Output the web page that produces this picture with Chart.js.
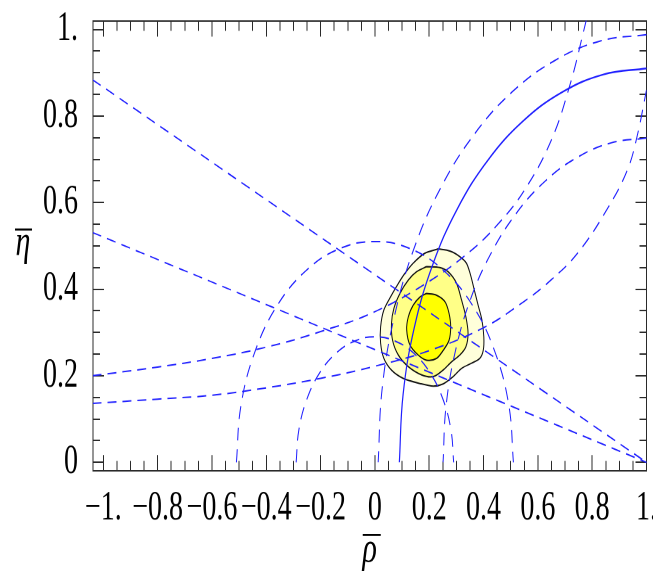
<!DOCTYPE html>
<html lang="en">
<head>
    <meta charset="UTF-8">
    <title>Unitarity triangle fit</title>
    <script src="https://cdn.jsdelivr.net/npm/chart.js"></script>
    <style>
        body {
            margin: 0;
            background: #fff;
        }
        #page {
            width: 653px;
            height: 576px;
            overflow: hidden;
        }
        /* the original picture is stretched vertically, so is this one */
        #wrap {
            width: 653px;
            height: 397px;
            transform: scaleY(1.4509);
            transform-origin: 0 0;
        }
        #chart {
            display: block;
            width: 653px;
            height: 397px;
        }
    </style>
</head>
<body>
    <div id="page"><div id="wrap"><canvas id="chart" width="653" height="397"></canvas></div></div>

    <script>
        // axis ranges and titles
        const xRange = [-1.038, 1.0];
        const yRange = [-0.02, 1.02];
        const xTitle = '\u03C1';
        const yTitle = '\u03B7';

        // |Vub/Vcb| circles around (0,0)
        const vubOuter = [[-0.51, 0], [-0.493, 0.132], [-0.442, 0.255], [-0.361, 0.361], [-0.255, 0.442], [-0.132, 0.493], [0, 0.51],
            [0.132, 0.493], [0.255, 0.442], [0.361, 0.361], [0.442, 0.255], [0.493, 0.132], [0.51, 0]];
        const vubInner = [[-0.29, 0], [-0.28, 0.075], [-0.251, 0.145], [-0.205, 0.205], [-0.145, 0.251], [-0.075, 0.28], [0, 0.29],
            [0.075, 0.28], [0.145, 0.251], [0.205, 0.205], [0.251, 0.145], [0.28, 0.075], [0.29, 0]];

        // Delta m_d circles around (1,0), dashed
        const dmdOuter = [[1, 0.988], [0.828, 0.973], [0.662, 0.928], [0.506, 0.856], [0.365, 0.757], [0.243, 0.635],
            [0.144, 0.494], [0.072, 0.338], [0.027, 0.172], [0.012, 0]];
        const dmdInner = [[1, 0.749], [0.87, 0.738], [0.744, 0.704], [0.626, 0.649], [0.519, 0.574], [0.426, 0.481],
            [0.351, 0.375], [0.296, 0.256], [0.262, 0.13], [0.251, 0]];
        // Delta m_s / Delta m_d bound, solid
        const dmsBound = [[1, 0.91], [0.842, 0.896], [0.689, 0.855], [0.545, 0.788], [0.415, 0.697], [0.303, 0.585],
            [0.212, 0.455], [0.145, 0.311], [0.104, 0.158], [0.09, 0]];

        // epsilon_K hyperbolas
        const epsUpper = [[-1.04, 0.2], [-0.8, 0.22], [-0.6, 0.24], [-0.4, 0.266], [-0.2, 0.302], [0, 0.348], [0.2, 0.418],
            [0.35, 0.487], [0.45, 0.548], [0.55, 0.628], [0.65, 0.745], [0.72, 0.876], [0.77, 1.0], [0.785, 1.04]];
        const epsLower = [[-1.04, 0.136], [-0.8, 0.146], [-0.6, 0.155], [-0.4, 0.172], [-0.2, 0.194], [0, 0.222], [0.2, 0.258],
            [0.4, 0.311], [0.55, 0.372], [0.65, 0.422], [0.75, 0.486], [0.86, 0.59], [0.93, 0.676], [0.965, 0.752], [1.0, 0.86]];

        // sin 2beta lines through (1,0)
        const betaSteep = [[-1.04, 0.884], [1, 0]];
        const betaFlat = [[-1.04, 0.531], [1, 0]];

        // fit contours
        const contour3 = [[0.233, 0.493], [0.276, 0.488], [0.313, 0.475], [0.337, 0.46], [0.352, 0.433], [0.366, 0.398], [0.38, 0.363],
            [0.394, 0.329], [0.401, 0.29], [0.399, 0.259], [0.386, 0.24], [0.356, 0.229], [0.319, 0.217], [0.288, 0.198],
            [0.251, 0.181], [0.215, 0.176], [0.166, 0.182], [0.104, 0.194], [0.061, 0.213], [0.033, 0.24], [0.021, 0.275],
            [0.021, 0.313], [0.033, 0.352], [0.061, 0.386], [0.086, 0.413], [0.11, 0.436], [0.141, 0.46], [0.184, 0.483], [0.233, 0.493]];
        const contour2 = [[0.19, 0.452], [0.239, 0.45], [0.27, 0.44], [0.301, 0.413], [0.319, 0.375], [0.335, 0.336], [0.343, 0.298],
            [0.335, 0.267], [0.313, 0.248], [0.282, 0.232], [0.251, 0.213], [0.215, 0.198], [0.172, 0.202], [0.123, 0.221],
            [0.086, 0.248], [0.065, 0.282], [0.061, 0.321], [0.07, 0.356], [0.092, 0.39], [0.123, 0.421], [0.153, 0.44], [0.19, 0.452]];
        const contour1 = [[0.19, 0.39], [0.227, 0.386], [0.258, 0.371], [0.273, 0.344], [0.279, 0.313], [0.273, 0.282], [0.251, 0.258],
            [0.227, 0.24], [0.19, 0.236], [0.159, 0.248], [0.129, 0.271], [0.117, 0.306], [0.123, 0.336], [0.141, 0.363],
            [0.166, 0.382], [0.19, 0.39]];

        const blue = '#1f1fff';
        const frameColor = '#2a2a2a';
        const serif = '"Liberation Serif", "Times New Roman", serif';

        const pts = a => a.map(([x, y]) => ({x, y}));

        function curve(data, dashed) {
            return {
                data: pts(data),
                showLine: true,
                borderColor: blue,
                borderWidth: dashed ? 1 : 1.2,
                borderDash: dashed ? [9, 6] : [],
                pointRadius: 0,
                tension: 0.4,
                fill: false,
                order: 1
            };
        }

        function region(data, color, order) {
            return {
                data: pts(data),
                showLine: true,
                borderColor: '#111',
                borderWidth: 1,
                backgroundColor: color,
                pointRadius: 0,
                tension: 0.3,
                fill: 'shape',
                order: order
            };
        }

        // Mathematica style labels: "-1.", "0", "0.2", "1."
        function fmt(v) {
            if (Math.abs(v) < 1e-9) return '0';
            const s = v < 0 ? '\u2212' : '';
            const a = Math.abs(v);
            if (Math.abs(a - 1) < 1e-9) return s + '1.';
            return s + a.toFixed(1);
        }

        // tick-only axes sit on the frame and take no room
        function tickAxis(position, range, step, len) {
            const horizontal = position === 'top' || position === 'bottom';
            return {
                type: 'linear',
                position: position,
                min: range[0],
                max: range[1],
                weight: -10,
                ticks: {display: false, stepSize: step, includeBounds: false},
                grid: {display: true, drawOnChartArea: false, drawTicks: true, tickLength: -len, tickColor: frameColor, tickWidth: 1},
                border: {display: len > 8, color: frameColor, width: 1},
                afterFit: s => {
                    if (horizontal) s.height = 0; else s.width = 0;
                    s.paddingLeft = s.paddingRight = s.paddingTop = s.paddingBottom = 0;
                }
            };
        }

        // eta title (upright, not rotated) and the bars over both titles
        const titleBars = {
            id: 'titleBars',
            afterDraw(chart) {
                const {ctx, chartArea} = chart;
                const sx = chart.scales.x;
                const midY = (chartArea.top + chartArea.bottom) / 2;
                ctx.save();
                ctx.font = 'italic 30px ' + serif;
                ctx.fillStyle = '#000';
                ctx.textAlign = 'center';
                ctx.textBaseline = 'middle';
                ctx.fillText(yTitle, 23, midY - 2);
                ctx.fillRect(15, midY - 12, 17, 1.4);
                const cx = (sx.left + sx.right) / 2;
                ctx.fillRect(cx - 7, sx.bottom - 29, 18, 1.4);
                ctx.restore();
            }
        };

        const ctx = document.getElementById('chart').getContext('2d');
        new Chart(ctx, {
            type: 'scatter',
            data: {
                datasets: [
                    curve(betaSteep, true),
                    curve(betaFlat, true),
                    curve(vubOuter, true),
                    curve(vubInner, true),
                    curve(dmdOuter, true),
                    curve(dmdInner, true),
                    curve(epsUpper, true),
                    curve(epsLower, true),
                    curve(dmsBound, false),
                    region(contour1, 'rgb(255,255,0)', 3),
                    region(contour2, 'rgb(255,255,135)', 4),
                    region(contour3, 'rgb(255,255,218)', 5)
                ]
            },
            options: {
                responsive: false,
                devicePixelRatio: 2,
                animation: false,
                layout: {padding: {top: 14.3, right: 6.5, bottom: 0, left: 0}},
                plugins: {
                    legend: {display: false},
                    tooltip: {enabled: false}
                },
                scales: {
                    x: {
                        type: 'linear',
                        position: 'bottom',
                        min: xRange[0],
                        max: xRange[1],
                        ticks: {
                            stepSize: 0.2,
                            includeBounds: false,
                            autoSkip: false,
                            maxRotation: 0,
                            minRotation: 0,
                            padding: 20,
                            color: '#000',
                            font: {family: serif, size: 28},
                            callback: v => fmt(v)
                        },
                        grid: {display: true, drawOnChartArea: false, drawTicks: true, tickLength: -11, tickColor: frameColor, tickWidth: 1},
                        border: {display: true, color: frameColor, width: 1},
                        title: {
                            display: true,
                            text: xTitle,
                            color: '#000',
                            padding: {top: 0, bottom: 0},
                            font: {family: serif, size: 30, style: 'italic', lineHeight: 1.2}
                        },
                        afterFit: s => {
                            s.height = 72.4;
                            s.paddingLeft = 0;
                            s.paddingRight = 0;
                        }
                    },
                    xMinor: tickAxis('bottom', xRange, 0.05, 7),
                    xTop: tickAxis('top', xRange, 0.2, 11),
                    xTopMinor: tickAxis('top', xRange, 0.05, 7),
                    y: {
                        type: 'linear',
                        position: 'left',
                        min: yRange[0],
                        max: yRange[1],
                        ticks: {
                            stepSize: 0.2,
                            includeBounds: false,
                            autoSkip: false,
                            padding: 26,
                            color: '#000',
                            font: {family: serif, size: 28},
                            callback: v => fmt(v)
                        },
                        grid: {display: true, drawOnChartArea: false, drawTicks: true, tickLength: -11, tickColor: frameColor, tickWidth: 1},
                        border: {display: true, color: frameColor, width: 1},
                        afterFit: s => {
                            s.width = 93;
                            s.paddingTop = 0;
                            s.paddingBottom = 0;
                        }
                    },
                    yMinor: tickAxis('left', yRange, 0.05, 7),
                    yRight: tickAxis('right', yRange, 0.2, 11),
                    yRightMinor: tickAxis('right', yRange, 0.05, 7)
                }
            },
            plugins: [titleBars]
        });
    </script>
</body>
</html>
